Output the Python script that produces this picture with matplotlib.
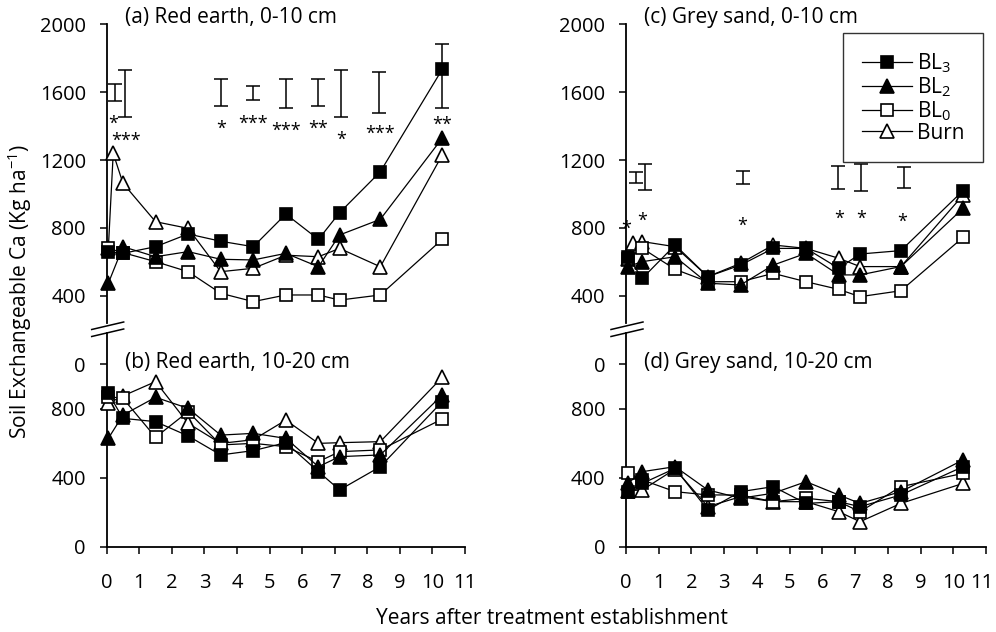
import matplotlib
matplotlib.use("Agg")
import matplotlib.pyplot as plt
import matplotlib.transforms as mtransforms
from matplotlib.lines import Line2D

plt.rcParams['font.family'] = ['Open Sans', 'DejaVu Sans']
plt.rcParams['mathtext.default'] = 'regular'

W, H = 996, 632
FS = 15
TICK_FS = 14.5

# sampling times (years after treatment establishment)
t = [0.05, 0.5, 1.5, 2.5, 3.5, 4.5, 5.5, 6.5, 7.15, 8.4, 10.3]
t_burn_top = [0.05, 0.2, 0.5, 1.5, 2.5, 3.5, 4.5, 5.5, 6.5, 7.15, 8.4, 10.3]

# (a) Red earth, 0-10 cm
a_bl3 = [661, 651, 690, 765, 722, 690, 882, 733, 890, 1131, 1733]
a_bl2 = [475, 690, 631, 661, 616, 612, 651, 572, 759, 851, 1328]
a_bl0 = [680, 655, 602, 543, 416, 367, 406, 406, 376, 406, 733]
a_burn = [680, 1239, 1063, 837, 798, 543, 563, 640, 631, 680, 572, 1229]

# (b) Red earth, 10-20 cm
b_bl3 = [889, 744, 725, 642, 532, 557, 603, 435, 329, 464, 841]
b_bl2 = [628, 763, 866, 802, 647, 657, 628, 464, 522, 532, 879]
b_bl0 = [870, 860, 634, 783, 590, 599, 580, 493, 551, 561, 740]
b_burn = [831, 874, 957, 715, 599, 620, 734, 599, 603, 609, 982]

# (c) Grey sand, 0-10 cm
c_bl3 = [631, 504, 700, 514, 582, 680, 680, 563, 647, 667, 1020]
c_bl2 = [573, 602, 631, 475, 465, 582, 651, 524, 524, 573, 916]
c_bl0 = [620, 680, 557, 484, 484, 533, 484, 439, 396, 431, 745]
c_burn = [620, 710, 720, 690, 514, 592, 700, 680, 622, 573, 573, 994]

# (d) Grey sand, 10-20 cm
d_bl3 = [319, 367, 454, 213, 319, 348, 251, 261, 232, 300, 464]
d_bl2 = [367, 435, 464, 329, 281, 310, 377, 300, 251, 319, 503]
d_bl0 = [429, 387, 319, 300, 300, 261, 281, 261, 203, 348, 425]
d_burn = [325, 329, 450, 232, 290, 261, 261, 203, 145, 251, 367]

# LSD bars (position, centre, half-length) and significance levels
a_lsd_x = [0.25, 0.55, 3.5, 4.5, 5.5, 6.5, 7.2, 8.35, 10.3]
a_lsd_c = [1596, 1592, 1597, 1594, 1592, 1597, 1592, 1595, 1695]
a_lsd_h = [49, 137, 79, 41, 84, 79, 137, 120, 187]
a_sig_x = [0.2, 0.6, 3.5, 4.5, 5.5, 6.5, 7.2, 8.4, 10.3]
a_sig_y = [1445, 1347, 1418, 1447, 1406, 1418, 1353, 1388, 1441]
a_sig = ['*', '***', '*', '***', '***', '**', '*', '***', '**']

c_lsd_x = [0.31, 0.58, 3.59, 6.49, 7.18, 8.48]
c_lsd_c = [1097, 1100, 1098, 1098, 1098, 1097]
c_lsd_h = [30, 76, 39, 69, 78, 64]
c_sig_x = [0.0, 0.5, 3.55, 6.5, 7.2, 8.45]
c_sig_y = [827, 876, 847, 886, 886, 866]
c_sig = ['*', '*', '*', '*', '*', '*']

series_labels = ['BL$_3$', 'BL$_2$', 'BL$_0$', 'Burn']
series_style = {
    'BL$_3$': dict(marker='s', mfc='black', ms=9),
    'BL$_2$': dict(marker='^', mfc='black', ms=10.5),
    'BL$_0$': dict(marker='s', mfc='white', ms=9),
    'Burn': dict(marker='^', mfc='white', ms=10.5),
}

top_ticks = [400, 800, 1200, 1600, 2000]
bottom_ticks = [0, 400, 800, 1057]
bottom_ticklabels = ['0', '400', '800', '0']
x_ticks = list(range(0, 12))

fig = plt.figure(figsize=(W / 100, H / 100), dpi=100)


def box(left, right, top, bottom):
    return [left / W, 1 - bottom / H, (right - left) / W, (bottom - top) / H]


def style_axes(ax, bottom_axis):
    for s in ('top', 'right'):
        ax.spines[s].set_visible(False)
    ax.spines['left'].set_linewidth(1.3)
    ax.spines['bottom'].set_linewidth(1.3)
    ax.spines['bottom'].set_visible(bottom_axis)
    ax.tick_params(axis='y', direction='out', length=5, width=1.1,
                   labelsize=TICK_FS, pad=10)
    ax.tick_params(axis='x', direction='out', length=5, width=1.1,
                   labelsize=TICK_FS, pad=14, bottom=bottom_axis,
                   labelbottom=bottom_axis)
    ax.set_xlim(0, 11)
    ax.set_xticks(x_ticks)
    ax.patch.set_alpha(0)


def draw_series(ax, xs_list, ys_list):
    order = [3, 2, 1, 0]
    for i in order:
        lab = series_labels[i]
        st = series_style[lab]
        ax.plot(xs_list[i], ys_list[i], color='black', lw=0.9,
                marker=st['marker'], ms=st['ms'], mfc=st['mfc'],
                mec='black', mew=1.2, clip_on=False, zorder=3 + (3 - i),
                label=lab)


def draw_lsd(ax, xs, cs, hs, sx, sy, stars):
    ax.errorbar(xs, cs, yerr=hs, fmt='none', ecolor='black',
                elinewidth=1.1, capsize=5, capthick=1.1, clip_on=False,
                zorder=2)
    for x, y, s in zip(sx, sy, stars):
        ax.annotate(s, (x, y), xytext=(0, -7.5), textcoords='offset points',
                    ha='center', va='baseline', fontsize=13,
                    annotation_clip=False)


columns = [
    dict(left=106.7, right=465.0,
         top=(t, [a_bl3, a_bl2, a_bl0], a_burn, t_burn_top),
         bot=(t, [b_bl3, b_bl2, b_bl0], b_burn, t),
         lsd=(a_lsd_x, a_lsd_c, a_lsd_h, a_sig_x, a_sig_y, a_sig),
         titles=('(a) Red earth, 0-10 cm', '(b) Red earth, 10-20 cm')),
    dict(left=626.0, right=986.0,
         top=(t, [c_bl3, c_bl2, c_bl0], c_burn, t_burn_top),
         bot=(t, [d_bl3, d_bl2, d_bl0], d_burn, t),
         lsd=(c_lsd_x, c_lsd_c, c_lsd_h, c_sig_x, c_sig_y, c_sig),
         titles=('(c) Grey sand, 0-10 cm', '(d) Grey sand, 10-20 cm')),
]

top_axes = []
bottom_axes = []
for col in columns:
    L, R = col['left'], col['right']
    # upper panel (0-10 cm)
    ax_t = fig.add_axes(box(L, R, 24, 323))
    style_axes(ax_t, False)
    ax_t.set_ylim(2000 - (323 - 24) * 1600 / 272, 2000)
    ax_t.set_yticks(top_ticks)
    tx, tys, tburn, tbx = col['top']
    draw_series(ax_t, [tx, tx, tx, tbx], tys + [tburn])
    draw_lsd(ax_t, *col['lsd'])
    top_axes.append(ax_t)

    # lower panel (10-20 cm)
    ax_b = fig.add_axes(box(L, R, 333, 546.7))
    style_axes(ax_b, True)
    ax_b.set_ylim(0, (546.7 - 333) * 400 / 69)
    ax_b.set_yticks(bottom_ticks)
    ax_b.set_yticklabels(bottom_ticklabels)
    bx, bys, bburn, bbx = col['bot']
    draw_series(ax_b, [bx, bx, bx, bbx], bys + [bburn])
    bottom_axes.append(ax_b)

    # panel titles
    fig.text((L + 18) / W, 1 - 17 / H, col['titles'][0], fontsize=FS,
             ha='left', va='center')
    fig.text((L + 18) / W, 1 - 362 / H, col['titles'][1], fontsize=FS,
             ha='left', va='center')

    # axis-break marks
    for y0, y1 in ((329.5, 322.0), (336.5, 329.0)):
        fig.add_artist(Line2D([(L - 15) / W, (L + 17) / W],
                              [1 - y0 / H, 1 - y1 / H], color='black',
                              lw=1.1, transform=fig.transFigure))

# keep the last x tick label of the right-hand panel inside the figure
last_lbl = bottom_axes[1].get_xticklabels()[-1]
last_lbl.set_transform(last_lbl.get_transform() +
                       mtransforms.ScaledTranslation(-4 / 100, 0,
                                                     fig.dpi_scale_trans))

# legend
handles = [Line2D([], [], color='black', lw=0.9,
                  marker=series_style[l]['marker'],
                  ms=series_style[l]['ms'], mfc=series_style[l]['mfc'],
                  mec='black', mew=1.2) for l in series_labels]
leg = top_axes[1].legend(handles, series_labels, loc='upper left',
                         bbox_to_anchor=(843 / W, 1 - 33 / H),
                         bbox_transform=fig.transFigure, borderaxespad=0,
                         fontsize=FS, frameon=True, fancybox=False,
                         edgecolor='black', borderpad=0.9, labelspacing=0.0,
                         handlelength=2.4, handletextpad=0.25)
leg.get_frame().set_linewidth(1.0)

fig.text(20 / W, 1 - 292 / H, 'Soil Exchangeable Ca (Kg ha$^{-1}$)',
         rotation=90, ha='center', va='center', fontsize=FS)
fig.text(552 / W, 1 - 618 / H, 'Years after treatment establishment',
         ha='center', va='center', fontsize=FS)

fig.savefig('out.png', dpi=100)
